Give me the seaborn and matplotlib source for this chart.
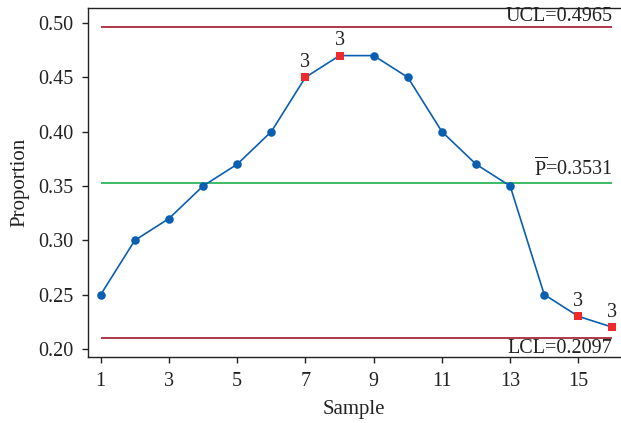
import matplotlib
matplotlib.use("Agg")
import matplotlib.pyplot as plt
import seaborn as sns
import pandas as pd

samples = list(range(1, 17))
proportion = [0.25, 0.30, 0.32, 0.35, 0.37, 0.40, 0.45, 0.47, 0.47, 0.45, 0.40, 0.37, 0.35, 0.25, 0.23, 0.22]
flagged = [7, 8, 15, 16]
flag_label = "3"
ucl = 0.4965
center = 0.3531
lcl = 0.2097
x_ticks = [1, 3, 5, 7, 9, 11, 13, 15]
y_ticks = [0.20, 0.25, 0.30, 0.35, 0.40, 0.45, 0.50]

sns.set_theme(style="white")
plt.rcParams['font.family'] = ['Liberation Serif', 'DejaVu Serif']
plt.rcParams['mathtext.fontset'] = 'custom'
plt.rcParams['mathtext.rm'] = 'Liberation Serif'

df = pd.DataFrame({"Sample": samples, "Proportion": proportion})
df["flag"] = df["Sample"].isin(flagged)

fig = plt.figure(figsize=(6.21, 4.23), dpi=100)
ax = fig.add_axes([88/621, 1-357/423, (620-88)/621, (357-8)/423])

blue = "#0b5fb0"
red = "#ee2a2a"
limit_col = "#a8293b"
green = "#2fb55a"
txt = "#222222"
fs = 14.5

ax.hlines([ucl, lcl], 1, 16, color=limit_col, lw=1.3, zorder=1)
ax.hlines(center, 1, 16, color=green, lw=1.3, zorder=1)

sns.lineplot(data=df, x="Sample", y="Proportion", color=blue, lw=1.2, ax=ax, zorder=2)
sns.scatterplot(data=df[~df["flag"]], x="Sample", y="Proportion", color=blue, s=38,
                marker="o", edgecolor=blue, linewidth=0, ax=ax, zorder=3)
sns.scatterplot(data=df[df["flag"]], x="Sample", y="Proportion", color=red, s=38,
                marker="s", edgecolor=red, linewidth=0, ax=ax, zorder=3)

for s, p in zip(samples, proportion):
    if s in flagged:
        ax.annotate(flag_label, (s, p), xytext=(0, 4), textcoords="offset points",
                    ha="center", va="bottom", fontsize=fs, color=txt)

ax.text(16, ucl + 0.001, f"UCL={ucl}", ha="right", va="bottom", fontsize=fs, color=txt)
ax.text(16, center + 0.002, r"$\overline{\mathrm{P}}$" + f"={center}", ha="right", va="bottom",
        fontsize=fs, color=txt)
ax.text(16, lcl - 0.0005, f"LCL={lcl}", ha="right", va="top", fontsize=fs, color=txt)

ax.set_xlim(0.627, 16.22)
ax.set_ylim(0.1926, 0.5138)
ax.set_xticks(x_ticks)
ax.set_yticks(y_ticks)
ax.set_yticklabels([f"{v:.2f}" for v in y_ticks])
ax.tick_params(axis="both", direction="out", length=4.5, width=1, color=txt,
               labelsize=fs, labelcolor=txt, bottom=True, left=True, pad=6)
for side in ["left", "bottom", "top"]:
    ax.spines[side].set_color(txt)
    ax.spines[side].set_linewidth(1.0)
ax.spines["right"].set_visible(False)
ax.set_xlabel("Sample", fontsize=15, color=txt, labelpad=7)
ax.set_ylabel("Proportion", fontsize=15, color=txt, labelpad=6)

fig.savefig("out.png", dpi=100)
